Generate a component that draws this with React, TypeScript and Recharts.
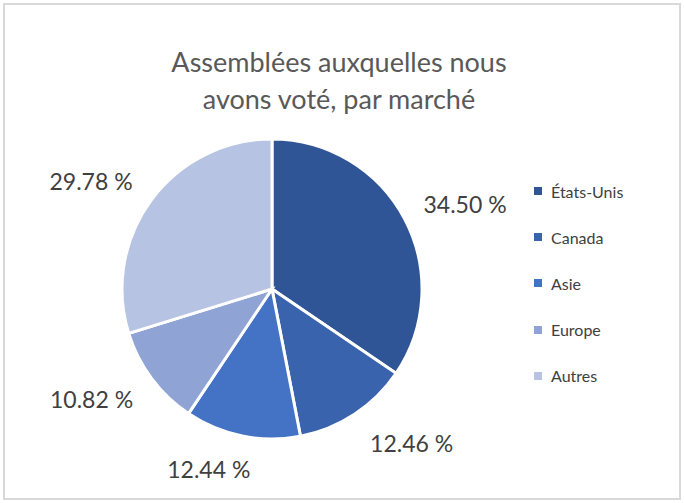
import React from "react";
import { PieChart, Pie, Cell, Legend } from "recharts";

const categories = ["États-Unis", "Canada", "Asie", "Europe", "Autres"];
const values = [34.5, 12.46, 12.44, 10.82, 29.78];
const colors = ["#2F5597", "#3A63AE", "#4472C4", "#8FA3D5", "#B7C3E3"];
const titleLines = ["Assemblées auxquelles nous", "avons voté, par marché"];

const data = categories.map((name, i) => ({ name, value: values[i] }));

const FONT = "Lato, 'Open Sans', sans-serif";
const RADIAN = Math.PI / 180;

const renderLabel = (props: any) => {
  const { cx, cy, midAngle, outerRadius, value } = props;
  const c = Math.cos(-midAngle * RADIAN);
  const s = Math.sin(-midAngle * RADIAN);
  const px = cx + outerRadius * c;
  const py = cy + outerRadius * s;
  const x = px + 61 * Math.tanh(3.1 * c);
  const y = py + 33 * s + 1;
  return (
    <text
      x={x}
      y={y}
      textAnchor="middle"
      dominantBaseline="central"
      fill="#404040"
      fontSize={23}
      fontFamily={FONT}
    >
      {`${Number(value).toFixed(2)} %`}
    </text>
  );
};

const LegendContent = () => (
  <div style={{ fontFamily: FONT, fontSize: 16, color: "#404040" }}>
    {data.map((d, i) => (
      <div
        key={d.name}
        style={{ display: "flex", alignItems: "center", height: 46.2 }}
      >
        <span
          style={{
            display: "inline-block",
            width: 8,
            height: 8,
            background: colors[i],
            marginRight: 9,
          }}
        />
        <span>{d.name}</span>
      </div>
    ))}
  </div>
);

export default function App() {
  return (
    <div
      style={{
        position: "fixed",
        left: 0,
        top: 0,
        width: 684,
        height: 503,
        background: "#fff",
      }}
    >
      <div
        style={{
          position: "absolute",
          left: 3,
          top: 3,
          width: 674,
          height: 493,
          border: "2px solid #D9D9D9",
        }}
      />
      <div
        style={{
          position: "absolute",
          left: 0,
          top: 43,
          width: 678,
          textAlign: "center",
          fontFamily: FONT,
          fontSize: 27,
          lineHeight: "37px",
          color: "#595959",
        }}
      >
        {titleLines.map((t) => (
          <div key={t}>{t}</div>
        ))}
      </div>
      <div style={{ position: "absolute", left: 0, top: 0 }}>
        <PieChart
          width={684}
          height={503}
          margin={{ top: 0, right: 0, bottom: 0, left: 0 }}
        >
          <Pie
            data={data}
            dataKey="value"
            nameKey="name"
            cx={272}
            cy={289}
            outerRadius={150}
            startAngle={90}
            endAngle={-270}
            stroke="#ffffff"
            strokeWidth={3}
            label={renderLabel}
            labelLine={false}
            isAnimationActive={false}
          >
            {data.map((d, i) => (
              <Cell key={d.name} fill={colors[i]} />
            ))}
          </Pie>
          <Legend
            layout="vertical"
            align="right"
            verticalAlign="top"
            content={<LegendContent />}
            wrapperStyle={{ left: 534, top: 168, width: 140 }}
          />
        </PieChart>
      </div>
    </div>
  );
}
